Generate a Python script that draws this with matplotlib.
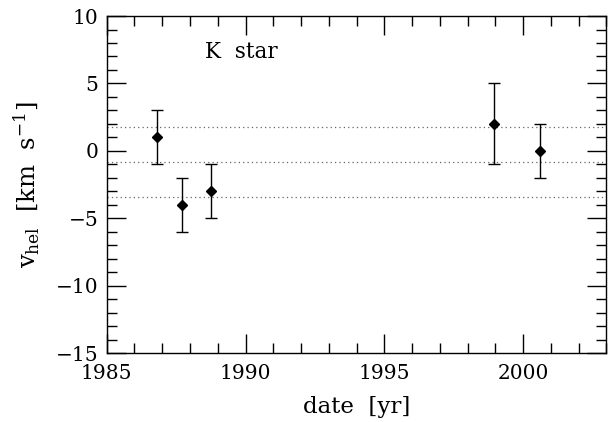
import matplotlib
matplotlib.use("Agg")
import matplotlib.pyplot as plt
from matplotlib.ticker import MultipleLocator

plt.rcParams.update({"font.family": "DejaVu Serif", "font.size": 14,
                     "mathtext.fontset": "dejavuserif"})

# ── data ────────────────────────────────────────────────────────────────────
dates = [1986.82, 1987.72, 1988.75, 1998.95, 2000.62]
vhel = [1, -4, -3, 2, 0]
err_lo = [2, 2, 2, 3, 2]
err_hi = [2, 2, 2, 3, 2]
ref_levels = [1.79, -0.8, -3.39]   # mean and mean +/- 1 sigma

fig = plt.figure(figsize=(6.08, 4.22), dpi=100)
ax = fig.add_axes([0.1755, 0.1635, 0.822, 0.7985])

for lv in ref_levels:
    ax.axhline(lv, color="0.4", linestyle=(0, (1, 2.5)), linewidth=0.9)

ax.errorbar(dates, vhel, yerr=[err_lo, err_hi], fmt="D", color="black",
            markersize=5, elinewidth=1.0, capsize=4.5, capthick=1.0)

ax.text(1988.55, 7.35, "K  star", fontsize=15.5, va="center")

ax.set_xlim(1985, 2003)
ax.set_ylim(-15, 10)
ax.xaxis.set_major_locator(MultipleLocator(5))
ax.xaxis.set_minor_locator(MultipleLocator(1))
ax.yaxis.set_major_locator(MultipleLocator(5))
ax.yaxis.set_minor_locator(MultipleLocator(1))
ax.tick_params(which="both", direction="in", top=True, right=True, width=1.0)
ax.tick_params(which="major", length=14, labelsize=14.5)
ax.tick_params(axis="x", which="major", pad=8)
ax.tick_params(axis="y", which="major", pad=6)
ax.tick_params(which="minor", length=7)
ax.set_yticks([10, 5, 0, -5, -10, -15])
ax.set_yticklabels(["10", "5", "0", "\u22125", "\u221210", "\u221215"])
for s in ax.spines.values():
    s.set_linewidth(1.0)

ax.set_xlabel("date  [yr]", fontsize=16.5, labelpad=9)
ax.set_ylabel(r"v$_{\rm hel}$  [km  s$^{-1}$]", fontsize=17.5, labelpad=10)

fig.savefig("out.png", dpi=100)
